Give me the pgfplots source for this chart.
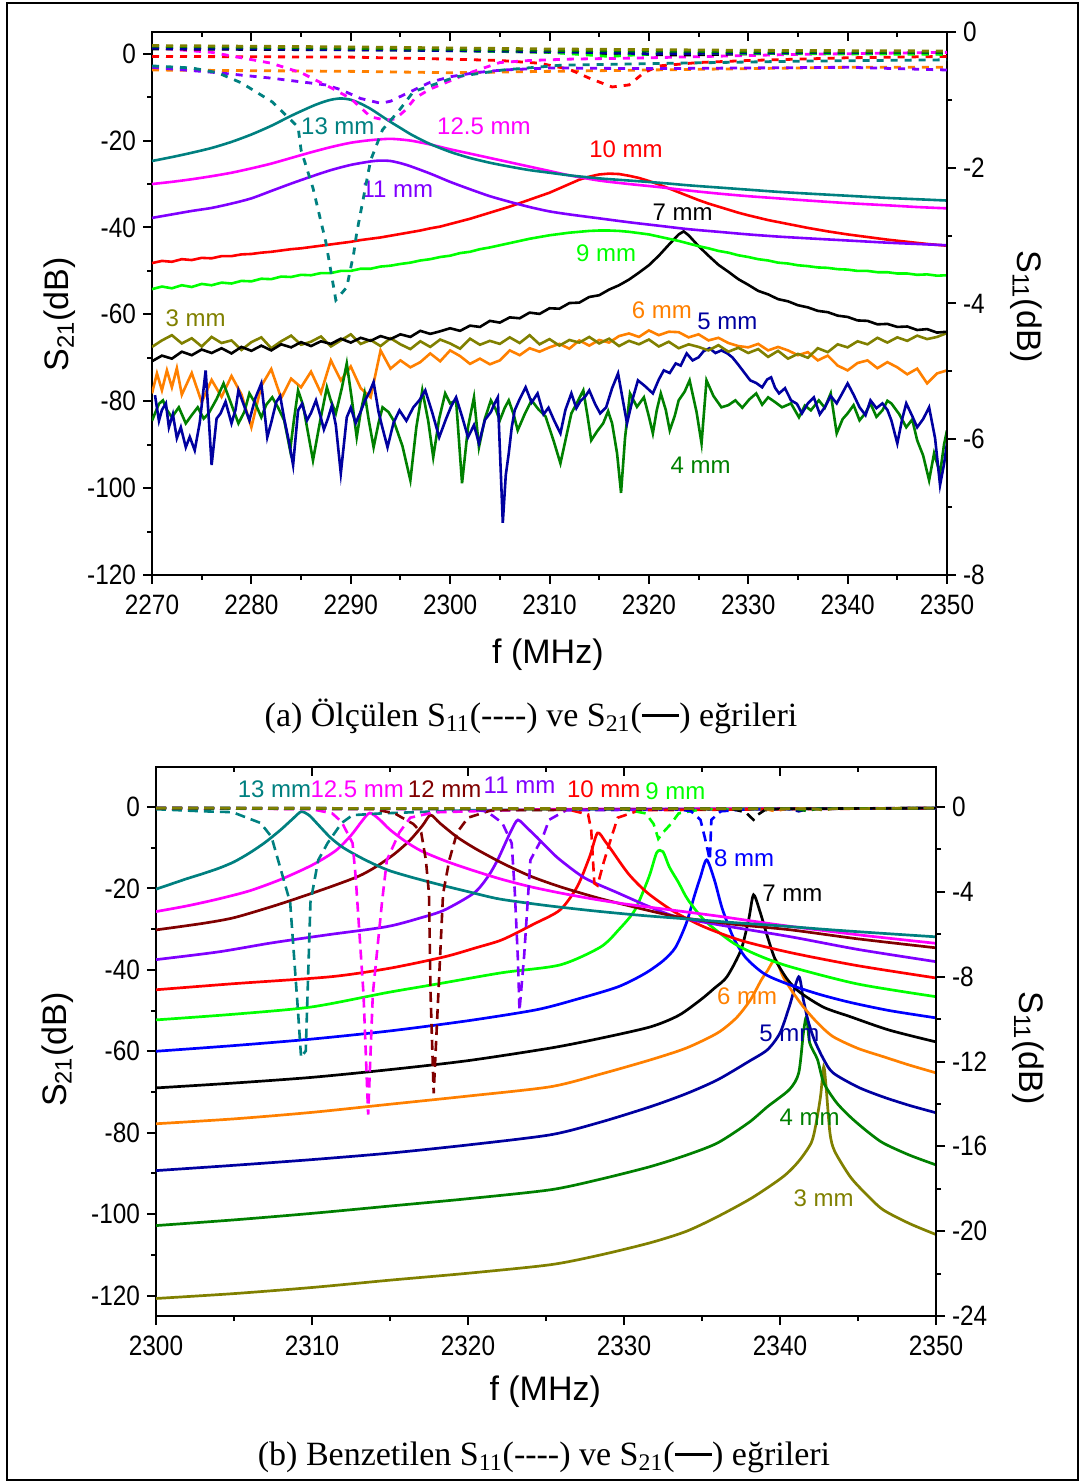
\documentclass[border=0pt]{standalone}
\usepackage{fontspec}
\setmainfont{Liberation Sans}
\newfontfamily\capfont{Liberation Serif}
\newfontfamily\tickfont{Liberation Sans}[FakeStretch=0.87]
\usepackage{pgfplots}
\pgfplotsset{compat=1.18}

\definecolor{cteal}{HTML}{008080}
\definecolor{cmag}{HTML}{FF00FF}
\definecolor{cvio}{HTML}{8000FF}
\definecolor{cred}{HTML}{FF0000}
\definecolor{clime}{HTML}{00FF00}
\definecolor{corange}{HTML}{FF8000}
\definecolor{cnavy}{HTML}{0000A0}
\definecolor{cdgreen}{HTML}{008000}
\definecolor{colive}{HTML}{808000}
\definecolor{cmaroon}{HTML}{800000}
\definecolor{cblue}{HTML}{0000FF}

\tikzset{lab/.style={font=\fontsize{12}{14}\selectfont, inner sep=0pt}}
\pgfplotsset{
  frameaxis/.style={scale only axis, anchor=south west,
    axis line style={line width=1pt},
    tick style={line width=1pt, black},
    major tick length=4.5pt, minor tick length=2.5pt,
    tick align=outside,
    tick label style={font=\tickfont\fontsize{14}{16}\selectfont},
    xticklabel style={yshift=-2pt},
    label style={font=\fontsize{17}{20}\selectfont},
    clip=true},
  s21a/.style={line width=1.3pt},
  s11a/.style={line width=1.4pt, dash pattern=on 3.5pt off 3.5pt},
  s21b/.style={line width=1.35pt, smooth, tension=0.45},
  s11b/.style={line width=1.3pt, dash pattern=on 5pt off 3pt},
}

\begin{document}
\begin{tikzpicture}
\useasboundingbox (0,0) rectangle (541.5pt,741.5pt);
\draw[line width=1pt] (3.5pt,1.5pt) rectangle (539pt,740pt);

% ---------------- (a) measured ----------------
\begin{axis}[frameaxis, at={(76pt,454pt)}, width=397.5pt, height=271.5pt,
  xmin=2270, xmax=2350, ymin=-120, ymax=5,
  xtick={2270,2280,...,2350},
  xticklabels={2270,2280,2290,2300,2310,2320,2330,2340,2350},
  minor xtick={2275,2285,...,2345},
  ytick={-120,-100,...,0},
  yticklabels={-120,-100,-80,-60,-40,-20,0},
  minor ytick={-110,-90,...,-10},
  xtick pos=left, ytick pos=left,
  xlabel={f (MHz)}, ylabel={S\textsubscript{21}(dB)},
  xlabel style={at={(axis description cs:0.498,-0.147)}, anchor=center},
  ylabel style={at={(axis description cs:-0.116,0.48)}, anchor=center}]

% 6 mm
\addplot[s21a, corange] coordinates {(2270,-78.2) (2270.5,-73.6) (2271,-77.5) (2271.5,-72.9) (2272,-76.8) (2272.5,-72.4) (2273,-78.5) (2274,-73.5) (2275,-80.2) (2276,-75.1) (2277,-79.0) (2278,-74.2) (2279,-78.4) (2280,-86.0) (2281,-76.5) (2282,-72.6) (2283,-79.3) (2284,-74.8) (2285,-76.8) (2286,-73.2) (2287,-78.1) (2288,-70.6) (2289,-75.2) (2290,-72.0) (2291,-77.0) (2292,-79.1) (2293,-68.3) (2294,-72.5) (2295,-70.6) (2296,-72.2) (2297,-71.0) (2298,-69.0) (2299,-70.8) (2300,-68.3) (2301,-69.6) (2302,-71.4) (2303,-70.2) (2304,-71.5) (2305,-70.6) (2306,-68.3) (2307,-69.4) (2308,-67.8) (2309,-68.6) (2310,-67.6) (2311,-66.8) (2312,-67.9) (2313,-66.0) (2314,-67.2) (2315,-65.9) (2316,-66.5) (2317,-65.0) (2318,-64.4) (2319,-65.2) (2320,-63.7) (2321,-64.8) (2322,-64.0) (2323,-64.1) (2324,-65.3) (2325,-64.6) (2326,-66.0) (2327,-65.4) (2328,-66.6) (2329,-67.3) (2330,-67.6) (2331,-66.8) (2332,-68.3) (2333,-67.5) (2334,-68.3) (2335,-69.4) (2336,-68.7) (2337,-70.6) (2338,-69.5) (2339,-71.8) (2340,-72.9) (2341,-71.2) (2342,-70.6) (2343,-72.4) (2344,-71.0) (2345,-72.2) (2346,-73.8) (2347,-72.5) (2348,-75.9) (2349,-73.6) (2350,-72.9)};
% 4 mm
\addplot[s21a, cdgreen] coordinates {(2270,-84.5) (2270.3,-82.8) (2270.7,-80.6) (2271.1,-79.8) (2271.5,-82.0) (2272,-83.7) (2272.7,-81.4) (2273.4,-85.1) (2274,-83.2) (2274.6,-81.4) (2275.2,-84.0) (2275.7,-82.8) (2276.5,-79.5) (2277.2,-75.9) (2278,-80.8) (2278.7,-85.1) (2279.3,-82.4) (2279.8,-78.2) (2280.4,-80.5) (2281,-83.7) (2281.5,-80.8) (2282.1,-79.1) (2282.7,-81.5) (2283.3,-84.4) (2283.9,-91.3) (2284.3,-84.0) (2284.7,-77.5) (2285.2,-80.9) (2285.6,-86) (2286.2,-93.6) (2286.9,-84.8) (2287.6,-76.8) (2288,-79.9) (2288.5,-82.8) (2289.1,-77.0) (2289.6,-71.3) (2290.1,-79.4) (2290.6,-88.3) (2291,-82.5) (2291.4,-78.2) (2291.8,-84.2) (2292.3,-90.6) (2292.8,-85.0) (2293.2,-81.4) (2293.8,-82.5) (2294.3,-84.4) (2295.2,-90.3) (2296,-98.2) (2296.6,-86.0) (2297.2,-77.5) (2297.8,-84.6) (2298.3,-92.9) (2298.9,-84.0) (2299.5,-78.2) (2300,-80.5) (2300.6,-79.8) (2301.2,-98.9) (2301.8,-86.0) (2302.4,-79.1) (2302.9,-90.6) (2303.5,-84.0) (2304.1,-79.8) (2304.6,-81.9) (2305,-84.4) (2305.5,-81.5) (2305.9,-79.8) (2306.4,-83.1) (2306.8,-86.7) (2307.5,-83.0) (2308.2,-79.8) (2308.9,-81.9) (2309.6,-83.5) (2310.4,-89.0) (2311.1,-94.3) (2311.7,-88.0) (2312.2,-82.8) (2312.8,-80.2) (2313.4,-77.5) (2313.8,-83.0) (2314.2,-89) (2314.8,-86.9) (2315.4,-85.1) (2315.9,-82.3) (2316.3,-85.1) (2316.8,-92.0) (2317.2,-101.1) (2317.6,-88.5) (2318.1,-78.2) (2318.8,-81.3) (2319.5,-79.1) (2320,-83.5) (2320.4,-87.4) (2320.8,-82.0) (2321.2,-78.2) (2321.7,-82.0) (2322.1,-86.7) (2322.6,-83.4) (2323,-79.8) (2323.6,-77.8) (2324.1,-75.2) (2324.8,-82.5) (2325.3,-89.7) (2325.8,-75.2) (2326.5,-78.8) (2327.3,-81.4) (2328,-80.9) (2328.7,-79.8) (2329.4,-81.5) (2330.1,-79.6) (2330.8,-78.2) (2331.4,-80.8) (2332,-79.1) (2332.7,-80.2) (2333.4,-81.4) (2334.3,-80.5) (2335.1,-83.7) (2335.7,-81.0) (2336.3,-82.1) (2337.1,-79.8) (2337.7,-81.5) (2338.3,-78.2) (2338.9,-87.4) (2339.5,-84.1) (2340,-82.8) (2340.6,-80.9) (2341.2,-84.4) (2341.8,-82.7) (2342.3,-80.5) (2342.9,-83.6) (2343.5,-82.1) (2344,-79.9) (2344.4,-80.5) (2345.2,-83.0) (2345.9,-86) (2346.5,-84.2) (2347,-89) (2347.6,-92.5) (2348.2,-98.2) (2348.7,-92) (2349.3,-96.6) (2349.7,-90.0) (2350,-86.7)};
% 5 mm
\addplot[s21a, cnavy] coordinates {(2270.3,-78.6) (2270.7,-84.5) (2271,-82.0) (2271.4,-80.5) (2271.7,-86) (2272.1,-83.0) (2272.5,-88.5) (2272.9,-86.0) (2273.4,-90.6) (2273.8,-88.2) (2274.3,-91.3) (2274.8,-85.0) (2275.4,-72.9) (2275.7,-83.5) (2276,-94.7) (2276.5,-84.0) (2276.9,-82.8) (2277.4,-80.1) (2278,-85.1) (2278.4,-82.0) (2278.7,-77.5) (2279.2,-80.6) (2279.8,-84.4) (2280.4,-79.3) (2281,-75.9) (2281.3,-82.0) (2281.6,-88.3) (2282,-84.9) (2282.5,-80.2) (2282.9,-78.8) (2283.3,-84.0) (2283.8,-89.5) (2284.2,-94.7) (2284.7,-82.1) (2285.1,-80.6) (2285.6,-84.4) (2286,-82.7) (2286.5,-79.8) (2286.9,-83.0) (2287.3,-86.5) (2287.7,-84.0) (2288.1,-81.0) (2288.5,-85.5) (2289,-96.6) (2289.6,-83.7) (2290,-81.5) (2290.5,-85.0) (2291,-82.4) (2291.4,-80.0) (2291.9,-77.8) (2292.3,-75.6) (2292.8,-82.5) (2293.2,-86.2) (2293.7,-90.6) (2294.3,-85.0) (2294.9,-82.1) (2295.6,-84.5) (2296.3,-81.4) (2296.9,-79.8) (2297.5,-77.5) (2298.2,-82.6) (2298.9,-88.3) (2299.6,-84.0) (2300.1,-81.2) (2300.6,-79.1) (2301.2,-83.5) (2301.8,-88.3) (2302.4,-85.5) (2302.9,-89.7) (2303.5,-84.3) (2304.1,-82.5) (2304.5,-80.4) (2304.8,-79.1) (2305.3,-108) (2305.6,-97.0) (2305.9,-92.0) (2306.2,-86.0) (2306.5,-82.1) (2307,-79.5) (2307.6,-76.8) (2308.2,-80.3) (2308.8,-78.2) (2309.4,-83.0) (2309.9,-81.5) (2310.5,-84.6) (2311.1,-87.4) (2311.6,-82.0) (2312.2,-78.2) (2312.7,-81.6) (2313.1,-80.0) (2313.6,-78.9) (2314,-77.5) (2314.6,-80.7) (2315.1,-82.8) (2315.7,-81.4) (2316.3,-77.0) (2316.9,-73.6) (2317.4,-80.0) (2317.8,-85.1) (2318.4,-79.2) (2318.9,-75.2) (2319.6,-76.5) (2320.4,-78.2) (2321,-75.0) (2321.5,-72.9) (2322.1,-73.5) (2322.7,-71.3) (2323.2,-71.8) (2323.8,-69) (2324.4,-70.6) (2325,-69.9) (2325.5,-68.5) (2326.1,-67.8) (2326.7,-68.9) (2327.3,-68.3) (2327.9,-69.0) (2328.4,-69.9) (2328.9,-71.3) (2329.3,-72.5) (2329.8,-74.0) (2330.2,-75.2) (2330.8,-75.8) (2331.4,-76.8) (2331.9,-75.0) (2332.3,-74.5) (2332.7,-76.9) (2333.1,-78.2) (2333.7,-77.0) (2334.3,-79.8) (2334.9,-80.6) (2335.4,-82.8) (2336,-80.5) (2336.6,-79.1) (2337.2,-83.0) (2337.7,-81.4) (2338.3,-78.8) (2338.9,-80.5) (2339.5,-78.0) (2340,-75.9) (2340.6,-78.5) (2341.2,-81.4) (2341.8,-83.2) (2342.3,-79.8) (2342.9,-81.6) (2343.5,-80.5) (2344,-82.0) (2344.4,-84.4) (2345,-89.7) (2345.5,-84.0) (2345.9,-80.5) (2346.5,-83.4) (2347,-86) (2347.6,-84.1) (2348.2,-81.4) (2348.8,-88.5) (2349.3,-99.3) (2349.7,-94.5) (2350,-89.7)};
% 3 mm
\addplot[s21a, colive] coordinates {(2270,-67.5) (2271,-66.0) (2272,-64.8) (2273,-66.7) (2274,-65.5) (2275,-67.4) (2276,-65.2) (2277,-66.6) (2278,-66.0) (2279,-68.2) (2280,-66.4) (2281,-65.3) (2282,-67.8) (2283,-66.2) (2284,-64.9) (2285,-67.0) (2286,-66.3) (2287,-65.1) (2288,-67.4) (2289,-66.0) (2290,-64.6) (2291,-66.8) (2292,-65.9) (2293,-67.3) (2294,-65.5) (2295,-66.9) (2296,-68.0) (2297,-66.2) (2298,-67.5) (2299,-65.8) (2300,-66.7) (2301,-67.9) (2302,-65.6) (2303,-67.0) (2304,-66.1) (2305,-66.8) (2306,-65.3) (2307,-66.6) (2308,-64.8) (2309,-66.9) (2310,-65.7) (2311,-67.2) (2312,-65.9) (2313,-66.5) (2314,-65.2) (2315,-66.7) (2316,-65.6) (2317,-67.3) (2318,-66.1) (2319,-66.9) (2320,-65.8) (2321,-67.4) (2322,-66.3) (2323,-67.8) (2324,-66.9) (2325,-67.5) (2326,-68.3) (2327,-67.1) (2328,-68.6) (2329,-67.7) (2330,-68.9) (2331,-68.0) (2332,-69.8) (2333,-68.4) (2334,-70.2) (2335,-69.1) (2336,-70.0) (2337,-67.8) (2338,-68.7) (2339,-66.9) (2340,-67.6) (2341,-66.2) (2342,-66.9) (2343,-65.4) (2344,-66.5) (2345,-65.3) (2346,-66.1) (2347,-64.9) (2348,-65.7) (2349,-65.2) (2350,-64.3)};
% 7 mm
\addplot[s21a, black] coordinates {(2270,-70.8) (2271,-69.5) (2272,-70.2) (2273,-68.6) (2274,-69.4) (2275,-68.1) (2276,-68.9) (2277,-67.8) (2278,-69.0) (2279,-67.5) (2280,-68.4) (2281,-67.2) (2282,-68.3) (2283,-66.9) (2284,-67.6) (2285,-66.4) (2286,-67.3) (2287,-66.2) (2288,-66.8) (2289,-65.6) (2290,-66.5) (2291,-65.4) (2292,-66.1) (2293,-65.0) (2294,-65.7) (2295,-64.6) (2296,-65.2) (2297,-63.8) (2298,-64.5) (2299,-63.9) (2300,-63.2) (2301,-63.8) (2302,-62.6) (2303,-62.9) (2304,-61.5) (2305,-61.9) (2306,-60.7) (2307,-60.9) (2308,-59.6) (2309,-59.9) (2310,-58.6) (2311,-58.7) (2312,-57.4) (2313,-57.3) (2314,-56.0) (2315,-55.6) (2316,-54.3) (2317,-53.3) (2318,-52.0) (2319,-50.4) (2320,-48.7) (2321,-46.5) (2322,-44.0) (2323,-41.6) (2323.5,-40.9) (2324,-41.8) (2325,-44.3) (2326,-46.5) (2327,-48.6) (2328,-50.2) (2329,-51.9) (2330,-53.2) (2331,-54.6) (2332,-55.4) (2333,-56.5) (2334,-57.0) (2335,-57.9) (2336,-58.4) (2337,-59.2) (2338,-59.5) (2339,-60.3) (2340,-60.6) (2341,-61.4) (2342,-61.5) (2343,-62.3) (2344,-62.2) (2345,-62.9) (2346,-62.8) (2347,-63.6) (2348,-63.4) (2349,-64.2) (2350,-64.0)};
% 9 mm
\addplot[s21a, clime] coordinates {(2270,-54.2) (2271,-53.6) (2272,-54.0) (2273,-53.3) (2274,-53.7) (2275,-53.0) (2276,-53.3) (2277,-52.7) (2278,-52.9) (2279,-52.3) (2280,-52.4) (2281,-51.8) (2282,-51.9) (2283,-51.3) (2284,-51.4) (2285,-50.9) (2286,-51.0) (2287,-50.5) (2288,-50.5) (2289,-50.0) (2290,-50.0) (2291,-49.5) (2292,-49.5) (2293,-49.0) (2294,-48.8) (2295,-48.4) (2296,-48.1) (2297,-47.6) (2298,-47.3) (2299,-46.8) (2300,-46.5) (2301,-45.9) (2302,-45.6) (2303,-45.0) (2304,-44.6) (2305,-44.1) (2306,-43.6) (2307,-43.1) (2308,-42.6) (2309,-42.2) (2310,-41.8) (2311,-41.5) (2312,-41.2) (2313,-41.0) (2314,-40.8) (2315,-40.7) (2316,-40.7) (2317,-40.8) (2318,-41.0) (2319,-41.3) (2320,-41.6) (2321,-42.1) (2322,-42.6) (2323,-43.1) (2324,-43.7) (2325,-44.3) (2326,-44.8) (2327,-45.4) (2328,-45.8) (2329,-46.4) (2330,-46.8) (2331,-47.3) (2332,-47.6) (2333,-48.1) (2334,-48.3) (2335,-48.7) (2336,-48.9) (2337,-49.2) (2338,-49.3) (2339,-49.6) (2340,-49.7) (2341,-50.0) (2342,-50.0) (2343,-50.3) (2344,-50.3) (2345,-50.6) (2346,-50.6) (2347,-50.9) (2348,-50.8) (2349,-51.1) (2350,-51.0)};
% 10 mm
\addplot[s21a, cred] coordinates {(2270,-48.2) (2271,-47.7) (2272,-47.9) (2273,-47.3) (2274,-47.5) (2275,-47.0) (2276,-47.1) (2277,-46.6) (2278,-46.6) (2279,-46.2) (2280,-46.1) (2281,-45.8) (2282,-45.6) (2283,-45.3) (2284,-45.0) (2285,-44.8) (2286,-44.5) (2287,-44.2) (2288,-43.9) (2289,-43.6) (2290,-43.3) (2291,-42.9) (2292,-42.6) (2293,-42.3) (2294,-41.9) (2295,-41.5) (2296,-41.1) (2297,-40.7) (2298,-40.2) (2299,-39.8) (2300,-39.2) (2301,-38.6) (2302,-38.0) (2303,-37.3) (2304,-36.6) (2305,-35.9) (2306,-35.2) (2307,-34.4) (2308,-33.6) (2309,-32.8) (2310,-32.0) (2311,-31.0) (2312,-30.0) (2313,-29.0) (2314,-28.3) (2315,-27.8) (2316,-27.6) (2317,-27.7) (2318,-28.1) (2319,-28.6) (2320,-29.3) (2321,-30.1) (2322,-31.0) (2323,-31.9) (2324,-32.8) (2325,-33.7) (2326,-34.5) (2327,-35.2) (2328,-35.9) (2329,-36.6) (2330,-37.2) (2332,-38.3) (2334,-39.2) (2336,-40.1) (2338,-40.9) (2340,-41.6) (2342,-42.2) (2344,-42.8) (2346,-43.3) (2348,-43.8) (2350,-44.2)};
% 11 mm
\addplot[s21a, cvio, smooth, tension=0.45] coordinates {(2270,-37.8) (2272,-37.0) (2274,-36.2) (2276,-35.5) (2278,-34.5) (2280,-33.3) (2282,-31.6) (2284,-29.9) (2286,-28.3) (2288,-26.8) (2290,-25.6) (2292,-24.8) (2293,-24.6) (2294,-24.7) (2295,-25.2) (2296,-25.9) (2298,-27.6) (2300,-29.5) (2302,-31.2) (2304,-32.8) (2306,-34.1) (2308,-35.3) (2310,-36.3) (2312,-37.0) (2315,-37.9) (2318,-38.8) (2321,-39.6) (2324,-40.4) (2327,-41.0) (2330,-41.6) (2333,-42.1) (2336,-42.5) (2340,-43.0) (2344,-43.5) (2347,-43.8) (2350,-44.1)};
% 12.5 mm
\addplot[s21a, cmag, smooth, tension=0.45] coordinates {(2270,-30.0) (2272,-29.5) (2274,-28.9) (2276,-28.2) (2278,-27.4) (2280,-26.4) (2282,-25.3) (2284,-24.0) (2286,-22.7) (2288,-21.5) (2290,-20.5) (2292,-19.9) (2294,-19.6) (2296,-20.0) (2298,-20.9) (2300,-22.0) (2302,-23.0) (2304,-24.0) (2306,-25.0) (2308,-26.0) (2310,-27.0) (2312,-28.0) (2315,-29.2) (2318,-30.0) (2321,-30.7) (2324,-31.5) (2327,-32.2) (2330,-32.8) (2333,-33.3) (2336,-33.8) (2340,-34.4) (2344,-34.9) (2347,-35.3) (2350,-35.6)};
% 13 mm
\addplot[s21a, cteal, smooth, tension=0.45] coordinates {(2270,-24.7) (2272,-23.8) (2274,-22.8) (2276,-21.7) (2278,-20.3) (2280,-18.6) (2282,-16.6) (2284,-14.3) (2286,-12.2) (2287,-11.3) (2288,-10.6) (2289,-10.3) (2290,-10.6) (2291,-11.5) (2292,-12.7) (2293,-14.2) (2294,-15.7) (2295,-17.1) (2296,-18.5) (2297,-19.7) (2298,-20.8) (2300,-22.6) (2302,-24.0) (2304,-25.1) (2306,-26.0) (2308,-26.8) (2310,-27.4) (2312,-28.0) (2315,-28.7) (2318,-29.2) (2321,-29.7) (2324,-30.3) (2327,-30.8) (2330,-31.3) (2333,-31.8) (2336,-32.2) (2340,-32.7) (2344,-33.2) (2347,-33.5) (2350,-33.8)};

\node[lab, text=cteal] at (axis cs:2288.7,-16.8) {13 mm};
\node[lab, text=cmag] at (axis cs:2303.4,-16.8) {12.5 mm};
\node[lab, text=cred] at (axis cs:2317.7,-22.1) {10 mm};
\node[lab, text=cvio] at (axis cs:2294.7,-31.3) {11 mm};
\node[lab, text=black] at (axis cs:2323.4,-36.6) {7 mm};
\node[lab, text=clime] at (axis cs:2315.7,-46) {9 mm};
\node[lab, text=colive] at (axis cs:2274.4,-60.9) {3 mm};
\node[lab, text=corange] at (axis cs:2321.3,-59.1) {6 mm};
\node[lab, text=cnavy] at (axis cs:2327.9,-61.6) {5 mm};
\node[lab, text=cdgreen] at (axis cs:2325.2,-94.7) {4 mm};
\end{axis}

\begin{axis}[frameaxis, at={(76pt,454pt)}, width=397.5pt, height=271.5pt,
  xmin=2270, xmax=2350, ymin=-8, ymax=0,
  axis x line=none, axis y line*=right,
  ytick={-8,-6,...,0}, yticklabels={-8,-6,-4,-2,0},
  minor ytick={-7,-5,-3,-1},
  ylabel={S\textsubscript{11}(dB)},
  ylabel style={rotate=180, at={(axis description cs:1.10,0.494)}, anchor=center}]
\addplot[s11a, corange] coordinates {(2270,-0.56) (2280,-0.57) (2290,-0.58) (2300,-0.6) (2310,-0.58) (2320,-0.56) (2330,-0.54) (2340,-0.52) (2350,-0.52)};
\addplot[s11a, cred] coordinates {(2270,-0.36) (2290,-0.37) (2300,-0.4) (2305,-0.42) (2309,-0.46) (2312,-0.55) (2314,-0.68) (2316.3,-0.81) (2318,-0.78) (2319.5,-0.6) (2321,-0.5) (2325,-0.45) (2330,-0.42) (2340,-0.38) (2350,-0.36)};
\addplot[s11a, cvio] coordinates {(2270,-0.52) (2276.6,-0.6) (2282,-0.68) (2287.5,-0.78) (2289,-0.85) (2291,-0.98) (2293,-1.05) (2294,-1.02) (2296,-0.88) (2298,-0.74) (2300,-0.66) (2302.5,-0.6) (2305.3,-0.56) (2310,-0.53) (2320,-0.54) (2330,-0.53) (2340,-0.52) (2350,-0.56)};
\addplot[s11a, cmag] coordinates {(2270,-0.23) (2276,-0.3) (2279,-0.38) (2282,-0.46) (2285,-0.6) (2288,-0.82) (2290,-0.98) (2292,-1.25) (2293.5,-1.3) (2294.5,-1.28) (2295.5,-1.15) (2296.5,-0.97) (2298,-0.84) (2300,-0.72) (2302,-0.6) (2305,-0.45) (2308,-0.42) (2312,-0.4) (2320,-0.38) (2335,-0.33) (2350,-0.3)};
\addplot[s11a, cteal] coordinates {(2270,-0.5) (2274,-0.53) (2276.6,-0.6) (2279,-0.75) (2282.1,-1.03) (2284.7,-1.4) (2285,-1.74) (2286.2,-2.3) (2287.5,-3.1) (2288.5,-3.95) (2289.6,-3.76) (2290.3,-3.26) (2290.6,-2.96) (2292,-1.89) (2293.2,-1.44) (2294.9,-1.15) (2296.3,-0.88) (2300.6,-0.66) (2305.3,-0.56) (2311.1,-0.49) (2322.7,-0.46) (2335,-0.43) (2350,-0.41)};
\addplot[s11a, black] coordinates {(2270,-0.25) (2300,-0.27) (2323,-0.34) (2335,-0.31) (2350,-0.32)};
\addplot[s11a, clime] coordinates {(2270,-0.22) (2290,-0.25) (2310,-0.3) (2316,-0.36) (2322,-0.31) (2350,-0.33)};
\addplot[s11a, cnavy] coordinates {(2270,-0.24) (2290,-0.26) (2310,-0.29) (2320,-0.32) (2330,-0.31) (2350,-0.3)};
\addplot[s11a, cdgreen] coordinates {(2270,-0.21) (2290,-0.24) (2310,-0.27) (2330,-0.29) (2350,-0.3)};
\addplot[s11a, colive] coordinates {(2270,-0.2) (2290,-0.22) (2310,-0.25) (2330,-0.27) (2350,-0.28)};
\end{axis}

\begin{axis}[frameaxis, at={(76pt,454pt)}, width=397.5pt, height=271.5pt,
  xmin=2270, xmax=2350, ymin=0, ymax=1,
  axis y line=none, axis x line*=top, tick align=inside,
  xtick={2270,2280,...,2350}, minor xtick={2275,2285,...,2345},
  xticklabels={}]
\end{axis}

\node[font=\capfont\fontsize{17}{20}\selectfont] at (265.5pt,383.5pt)
  {(a) Ölçülen S\textsubscript{11}(-{}-{}-{}-) ve S\textsubscript{21}(\rule[0.28em]{1.1em}{0.07em}) eğrileri};

% ---------------- (b) simulated ----------------
\begin{axis}[frameaxis, at={(78pt,83.5pt)}, width=390pt, height=274.5pt,
  xmin=2300, xmax=2350, ymin=-125, ymax=9.8,
  xtick={2300,2310,...,2350},
  xticklabels={2300,2310,2320,2330,2340,2350},
  minor xtick={2305,2315,...,2345},
  ytick={-120,-100,...,0},
  yticklabels={-120,-100,-80,-60,-40,-20,0},
  minor ytick={-110,-90,...,-10},
  xtick pos=left, ytick pos=left,
  xlabel={f (MHz)}, ylabel={S\textsubscript{21}(dB)},
  xlabel style={at={(axis description cs:0.499,-0.137)}, anchor=center},
  ylabel style={at={(axis description cs:-0.126,0.485)}, anchor=center}]

\addplot[s21b, colive] coordinates {(2300,-120.7) (2305,-119.5) (2310,-118.0) (2315,-116.2) (2320,-114.5) (2325.3,-112.4) (2328.5,-110.0) (2331.7,-107.0) (2334,-104.2) (2336,-100.6) (2338.2,-96.0) (2340.2,-90.8) (2341.2,-87.0) (2342,-82.5) (2342.3,-78.0) (2342.6,-71.0) (2342.8,-63.8) (2342.95,-68.5) (2343.2,-80.0) (2343.5,-84.5) (2344.5,-90.8) (2345.5,-95.0) (2346.6,-98.9) (2348.3,-102.3) (2350,-105)};
\addplot[s21b, cdgreen] coordinates {(2300,-102.8) (2305,-101.4) (2310,-99.8) (2315,-98.0) (2320,-96.2) (2325.3,-94.0) (2328.5,-91.4) (2331.7,-88.3) (2334,-85.5) (2336,-82.5) (2338,-77.5) (2339.2,-73.6) (2340.6,-69.4) (2341.2,-65.3) (2341.5,-55.5) (2341.7,-51.5) (2341.9,-57.9) (2342.4,-62.0) (2342.8,-67.7) (2343.6,-72.5) (2344.5,-76.1) (2345.5,-79.4) (2346.6,-82.5) (2348.3,-85.5) (2350,-87.9)};
\addplot[s21b, cnavy] coordinates {(2300,-89.3) (2305,-88.0) (2310,-86.6) (2315,-85.0) (2320,-83.0) (2325.3,-80.5) (2328.5,-77.4) (2331.7,-73.6) (2334,-70.4) (2336,-67.0) (2338,-62.5) (2339.2,-59.6) (2340,-55.5) (2340.6,-49.0) (2341.2,-41.7) (2341.5,-47.4) (2341.8,-52.5) (2342.2,-57.2) (2342.8,-62.0) (2343.4,-65.3) (2345,-68.8) (2346.6,-71.2) (2348.3,-73.3) (2350,-75.1)};
\addplot[s21b, corange] coordinates {(2300,-77.8) (2305,-76.6) (2310,-75.0) (2315,-73.0) (2320,-71.0) (2325.3,-68.7) (2328.5,-65.6) (2331.7,-62.1) (2334,-59.2) (2336,-55.5) (2337.2,-51.8) (2338.1,-47.4) (2338.8,-42.5) (2339.2,-40.2) (2339.7,-37.5) (2340.2,-41.7) (2340.8,-45.4) (2341.5,-49.1) (2342.4,-53.0) (2343.4,-56.4) (2345,-59.3) (2346.6,-61.3) (2348.3,-63.4) (2350,-65.3)};
\addplot[s21b, black] coordinates {(2300,-69) (2305,-67.8) (2310,-66.4) (2315,-64.5) (2320,-62.3) (2325.3,-59.2) (2328.5,-56.8) (2331.7,-54.0) (2333.5,-51.2) (2334.9,-47.4) (2335.8,-44.5) (2336.6,-41.7) (2337.5,-35.1) (2338.0,-27.5) (2338.3,-21.6) (2338.7,-25.5) (2339.2,-31.9) (2339.7,-37.5) (2340.5,-42.5) (2341.3,-45.6) (2342.8,-49.2) (2344.5,-51.5) (2347,-54.8) (2350,-57.7)};
\addplot[s21b, cblue] coordinates {(2300,-60) (2305,-58.6) (2310,-57.0) (2315,-55.0) (2320,-52.5) (2324.4,-49.8) (2327,-47.2) (2329.6,-44.2) (2331.3,-41.0) (2332.5,-37.8) (2333.3,-34.5) (2334,-28.5) (2334.5,-22.0) (2334.9,-17.2) (2335.3,-13.0) (2335.8,-18.0) (2336.3,-25.0) (2337,-32.0) (2337.8,-37.0) (2339,-41.0) (2340.5,-43.5) (2342.5,-46.0) (2344.5,-48.0) (2347,-50.0) (2350,-51.8)};
\addplot[s21b, clime] coordinates {(2300,-52.3) (2305,-50.9) (2310,-49.1) (2314.8,-45.6) (2318,-43.5) (2322.2,-40.7) (2325.9,-38.8) (2328.5,-34.4) (2329.7,-30.0) (2330.7,-25.3) (2331.6,-17.2) (2332.1,-11.2) (2332.5,-11.0) (2332.9,-14.7) (2333.5,-18.6) (2334.1,-22.8) (2335.2,-28.0) (2337,-33.4) (2338.7,-36.6) (2340.7,-39.3) (2345,-43.5) (2350,-46.6)};
\addplot[s21b, cred] coordinates {(2300,-44.9) (2305,-43.4) (2311.2,-41.7) (2315,-39.6) (2318.5,-36.8) (2320.5,-34.6) (2322.2,-32.6) (2324.2,-28.8) (2325.9,-25.3) (2327,-19.6) (2327.8,-12.2) (2328.3,-6.4) (2328.8,-8.5) (2329.2,-10.6) (2330.3,-16.5) (2331.5,-21.1) (2333.2,-25.7) (2335.1,-29.4) (2337.5,-32.8) (2340.7,-35.8) (2345,-39.0) (2350,-42.0)};
\addplot[s21b, cvio] coordinates {(2300,-37.5) (2304,-35.6) (2307.4,-33.4) (2311,-31.4) (2314.8,-29.4) (2317,-27.2) (2318.5,-25.3) (2320.4,-21.1) (2321.3,-17.0) (2321.9,-13.0) (2322.5,-8.0) (2322.8,-5.6) (2323.2,-3.2) (2323.8,-5.2) (2324.4,-7.4) (2325.2,-10.5) (2325.9,-13.0) (2327.5,-17.5) (2329.6,-21.1) (2331.5,-24.3) (2333.3,-26.9) (2336,-28.9) (2340.7,-31.9) (2345,-35.0) (2350,-38.0)};
\addplot[s21b, cmaroon] coordinates {(2300,-30.2) (2303,-28.6) (2305,-27.2) (2307.4,-24.5) (2309,-22.5) (2311.2,-19.6) (2313,-17.0) (2314.1,-14.7) (2315.3,-11.5) (2316.3,-8.1) (2317.1,-4.5) (2317.6,-2.0) (2318.2,-4.0) (2319.3,-7.4) (2320.5,-10.3) (2322.2,-13.8) (2324,-17.0) (2325.9,-19.6) (2328,-22.0) (2329.6,-23.6) (2333.3,-26.9) (2337,-28.8) (2340.7,-30.2) (2345,-32.4) (2350,-34.6)};
\addplot[s21b, cmag] coordinates {(2300,-25.7) (2302,-24.3) (2304,-22.6) (2306,-20.6) (2308,-17.8) (2310,-14.3) (2311.5,-10.8) (2312.5,-7.0) (2313.2,-3.5) (2313.7,-1.5) (2314.3,-3.0) (2315,-5.6) (2316,-8.5) (2317,-10.8) (2318.5,-13.2) (2320,-15.2) (2322,-17.6) (2324,-19.6) (2326,-21.2) (2328,-22.6) (2330,-23.8) (2333,-25.3) (2336,-26.8) (2340,-29.0) (2345,-31.4) (2350,-33.5)};
\addplot[s21b, cteal] coordinates {(2300,-20.2) (2301,-18.9) (2302,-17.6) (2303,-16.4) (2304,-15.1) (2305,-13.5) (2306,-11.3) (2307,-8.7) (2308,-5.6) (2308.8,-2.8) (2309.3,-1.2) (2309.8,-2.0) (2310.5,-4.8) (2311.2,-7.6) (2312,-10.0) (2313,-12.2) (2314,-14.1) (2315,-15.7) (2316.5,-17.4) (2318.5,-19.4) (2320,-20.8) (2322,-22.6) (2325,-24.2) (2328,-25.5) (2331,-26.6) (2334,-27.5) (2337,-28.4) (2340,-29.2) (2343,-30.1) (2346,-30.9) (2350,-31.9)};

\node[lab, text=cteal] at (axis cs:2307.6,4.4) {13 mm};
\node[lab, text=cmag] at (axis cs:2312.9,4.4) {12.5 mm};
\node[lab, text=cmaroon] at (axis cs:2318.5,4.4) {12 mm};
\node[lab, text=cvio] at (axis cs:2323.3,5.4) {11 mm};
\node[lab, text=cred] at (axis cs:2328.7,4.4) {10 mm};
\node[lab, text=clime] at (axis cs:2333.3,3.9) {9 mm};
\node[lab, text=cblue] at (axis cs:2337.7,-12.5) {8 mm};
\node[lab, text=black] at (axis cs:2340.8,-21.1) {7 mm};
\node[lab, text=corange] at (axis cs:2337.9,-46.6) {6 mm};
\node[lab, text=cnavy] at (axis cs:2340.6,-55.7) {5 mm};
\node[lab, text=cdgreen] at (axis cs:2341.9,-76.3) {4 mm};
\node[lab, text=colive] at (axis cs:2342.8,-96.2) {3 mm};
\end{axis}

\begin{axis}[frameaxis, at={(78pt,83.5pt)}, width=390pt, height=274.5pt,
  xmin=2300, xmax=2350, ymin=-24, ymax=1.89,
  axis x line=none, axis y line*=right,
  ytick={-24,-20,...,0}, yticklabels={-24,-20,-16,-12,-8,-4,0},
  minor ytick={-22,-18,...,-2},
  ylabel={S\textsubscript{11}(dB)},
  ylabel style={rotate=180, at={(axis description cs:1.118,0.488)}, anchor=center}]
\addplot[s11b, cteal] coordinates {(2300,-0.1) (2303,-0.2) (2304.9,-0.24) (2306.7,-0.75) (2307.4,-1.4) (2308.6,-4.5) (2309.1,-9.6) (2309.3,-11.8) (2309.6,-11.5) (2309.9,-4.5) (2310.4,-2.5) (2311,-1.7) (2311.9,-0.75) (2312.6,-0.38) (2314.4,-0.3) (2320,-0.15) (2330,-0.1) (2350,-0.05)};
\addplot[s11b, cmag] coordinates {(2300,-0.05) (2310,-0.1) (2311.3,-0.3) (2311.9,-0.7) (2312.6,-1.7) (2312.8,-3.3) (2313.3,-8.8) (2313.6,-14.5) (2313.9,-8.8) (2314.5,-4.4) (2314.8,-2.5) (2315.6,-1.2) (2316.3,-0.5) (2317.8,-0.25) (2325,-0.1) (2350,-0.05)};
\addplot[s11b, cmaroon] coordinates {(2300,-0.05) (2314,-0.1) (2315.3,-0.3) (2316.5,-0.8) (2317,-1.2) (2317.3,-2.5) (2317.5,-4.1) (2317.6,-8.8) (2317.8,-13.5) (2318.1,-8.8) (2318.4,-4.1) (2318.8,-2.5) (2319.3,-1.2) (2320,-0.5) (2321.5,-0.15) (2350,-0.05)};
\addplot[s11b, cvio] coordinates {(2300,-0.05) (2320,-0.1) (2321.2,-0.2) (2322.2,-0.75) (2322.8,-1.7) (2323.0,-4) (2323.2,-7.2) (2323.3,-9.6) (2323.6,-7) (2324,-2.5) (2324.8,-1.4) (2325.2,-0.6) (2326.3,-0.15) (2350,-0.05)};
\addplot[s11b, cred] coordinates {(2300,-0.05) (2325,-0.1) (2326.6,-0.15) (2327.7,-0.35) (2327.9,-1.1) (2328.1,-3.6) (2328.3,-3.7) (2328.7,-2.6) (2329.2,-1.4) (2329.6,-0.5) (2331,-0.15) (2350,-0.05)};
\addplot[s11b, clime] coordinates {(2300,-0.05) (2330,-0.1) (2331.4,-0.3) (2331.9,-0.8) (2332.2,-1.5) (2332.5,-1.2) (2333,-0.8) (2333.5,-0.3) (2335,-0.1) (2350,-0.05)};
\addplot[s11b, cblue] coordinates {(2300,-0.05) (2333.5,-0.1) (2334.3,-0.2) (2334.9,-0.6) (2335.2,-1.5) (2335.5,-2.5) (2335.6,-0.6) (2336.2,-0.2) (2338,-0.1) (2350,-0.05)};
\addplot[s11b, black] coordinates {(2300,-0.05) (2337,-0.1) (2337.8,-0.25) (2338.3,-0.6) (2338.6,-0.35) (2339,-0.15) (2340,-0.08) (2350,-0.05)};
\addplot[s11b, corange] coordinates {(2300,-0.05) (2339,-0.08) (2339.7,-0.2) (2340.4,-0.08) (2350,-0.05)};
\addplot[s11b, cnavy] coordinates {(2300,-0.05) (2340.5,-0.08) (2341.2,-0.2) (2341.9,-0.08) (2350,-0.05)};
\addplot[s11b, cdgreen] coordinates {(2300,-0.05) (2341,-0.08) (2341.7,-0.18) (2342.4,-0.08) (2350,-0.05)};
\addplot[s11b, colive] coordinates {(2300,-0.05) (2342.2,-0.08) (2342.8,-0.15) (2343.4,-0.08) (2350,-0.05)};
\end{axis}

\begin{axis}[frameaxis, at={(78pt,83.5pt)}, width=390pt, height=274.5pt,
  xmin=2300, xmax=2350, ymin=0, ymax=1,
  axis y line=none, axis x line*=top, tick align=inside,
  xtick={2300,2310,...,2350}, minor xtick={2305,2315,...,2345},
  xticklabels={}]
\end{axis}

\node[font=\capfont\fontsize{17}{20}\selectfont] at (272pt,13pt)
  {(b) Benzetilen S\textsubscript{11}(-{}-{}-{}-) ve S\textsubscript{21}(\rule[0.28em]{1.1em}{0.07em}) eğrileri};
\end{tikzpicture}
\end{document}
